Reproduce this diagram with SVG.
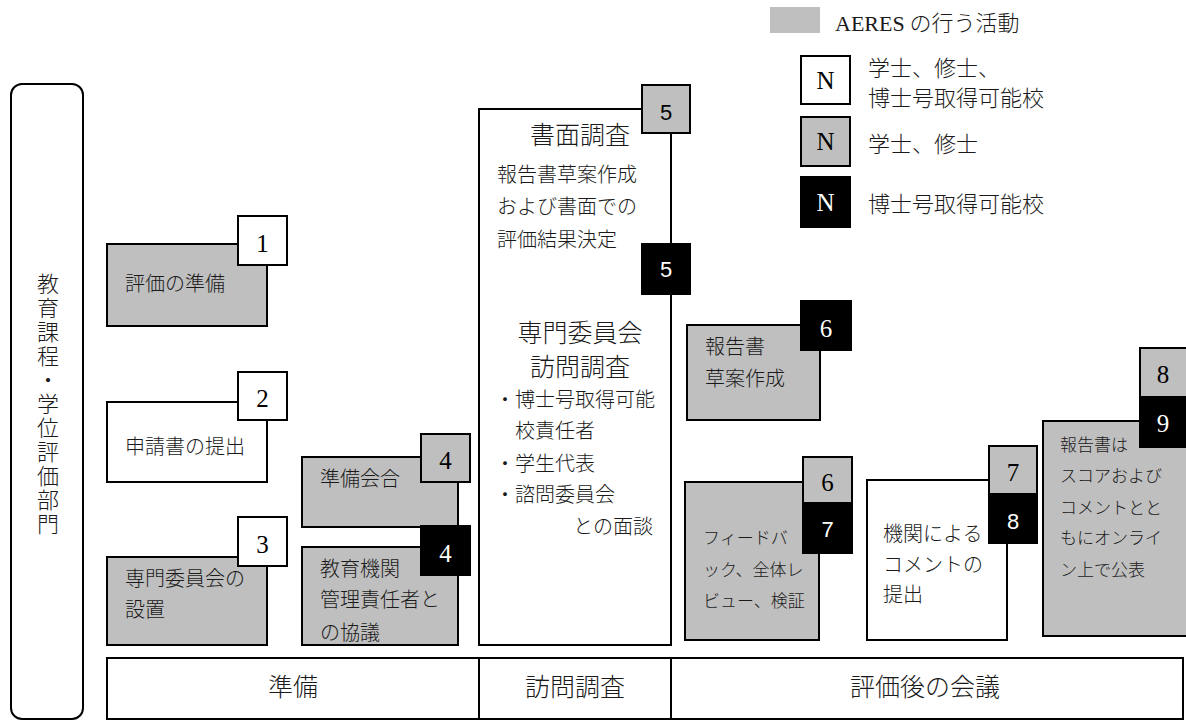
<svg xmlns="http://www.w3.org/2000/svg" width="1186" height="722" viewBox="0 0 1186 722">
<style>
.w{fill:#ffffff;stroke:#000;stroke-width:2}
.g{fill:#bfbfbf;stroke:#000;stroke-width:2}
.b{fill:#000;stroke:#000;stroke-width:2}
.t{font-family:"Noto Sans CJK JP","Noto Sans",sans-serif;font-size:20px;font-weight:300;fill:#1a1a1a}
.ts{font-family:"Noto Sans CJK JP","Noto Sans",sans-serif;font-size:17px;font-weight:300;fill:#1a1a1a}
.th{font-family:"Noto Sans CJK JP","Noto Sans",sans-serif;font-size:25px;font-weight:300;fill:#1a1a1a;text-anchor:middle}
.tl{font-family:"Noto Sans CJK JP","Noto Sans",sans-serif;font-size:22px;font-weight:300;fill:#1a1a1a}
.n{font-family:"Liberation Serif","Times New Roman",serif;font-size:25px;text-anchor:middle;fill:#000}
.ns{font-family:"Liberation Sans",Arial,sans-serif;font-size:22px;text-anchor:middle;fill:#000}
.nw{fill:#fff}
</style>
<rect width="1186" height="722" fill="#fff"/>

<g id="legend">
  <rect x="770" y="7" width="50" height="26" fill="#bfbfbf"/>
  <text x="835" y="31" class="tl"><tspan font-family="Liberation Serif, serif" font-weight="400">AERES</tspan> の行う活動</text>
  <rect x="801" y="56" width="49" height="48" class="w"/>
  <text x="825.5" y="89" class="n" font-size="22">N</text>
  <text x="868" y="76" class="tl">学士、修士、</text>
  <text x="868" y="106" class="tl">博士号取得可能校</text>
  <rect x="801" y="117" width="49" height="49" class="g"/>
  <text x="825.5" y="150" class="n" font-size="22">N</text>
  <text x="868" y="152" class="tl">学士、修士</text>
  <rect x="801" y="177" width="49" height="50" class="b"/>
  <text x="825.5" y="211" class="n nw" font-size="22">N</text>
  <text x="868" y="212" class="tl">博士号取得可能校</text>
</g>

<g id="dept">
  <rect x="11" y="84" width="72" height="635" rx="11" ry="11" fill="#fff" stroke="#000" stroke-width="2"/>
  <text x="48" y="273" class="tl" font-size="24" style="writing-mode:vertical-rl;letter-spacing:2px">教育課程・学位評価部門</text>
</g>

<g id="phases">
  <rect x="107" y="658" width="1076" height="61" fill="#fff" stroke="#000" stroke-width="2"/>
  <line x1="479" y1="658" x2="479" y2="719" stroke="#000" stroke-width="2"/>
  <line x1="671" y1="658" x2="671" y2="719" stroke="#000" stroke-width="2"/>
  <text x="293" y="696" class="th" font-size="24">準備</text>
  <text x="575" y="696" class="th" font-size="24">訪問調査</text>
  <text x="925" y="696" class="th" font-size="24">評価後の会議</text>
</g>

<g id="step1">
  <rect x="107" y="244" width="160" height="82" class="g"/>
  <text x="125" y="291" class="t">評価の準備</text>
  <rect x="238" y="216" width="49" height="49" class="w"/>
  <text x="262.5" y="252" class="n">1</text>
</g>

<g id="step2">
  <rect x="107" y="402" width="160" height="80" class="w"/>
  <text x="125" y="454" class="t">申請書の提出</text>
  <rect x="238" y="372" width="49" height="48" class="w"/>
  <text x="262.5" y="407" class="n">2</text>
</g>

<g id="step3">
  <rect x="107" y="557" width="160" height="88" class="g"/>
  <text x="125" y="586" class="t">専門委員会の</text>
  <text x="125" y="617" class="t">設置</text>
  <rect x="238" y="517" width="49" height="49" class="w"/>
  <text x="262.5" y="553" class="n">3</text>
</g>

<g id="step4a">
  <rect x="302" y="457" width="156" height="70" class="g"/>
  <text x="320" y="486" class="t">準備会合</text>
  <rect x="421" y="434" width="49" height="48" class="g"/>
  <text x="445.5" y="469" class="n">4</text>
</g>

<g id="step4b">
  <rect x="302" y="547" width="156" height="98" class="g"/>
  <text x="320" y="576" class="t">教育機関</text>
  <text x="320" y="607" class="t">管理責任者と</text>
  <text x="320" y="640" class="t">の協議</text>
  <rect x="421" y="526" width="49" height="49" class="b"/>
  <text x="445.5" y="562" class="n nw">4</text>
</g>

<g id="step5">
  <rect x="479" y="109" width="192" height="536" class="w"/>
  <text x="580" y="144" class="th">書面調査</text>
  <text x="497" y="182" class="t">報告書草案作成</text>
  <text x="497" y="214" class="t">および書面での</text>
  <text x="497" y="247" class="t">評価結果決定</text>
  <text x="580" y="342" class="th" font-size="23">専門委員会</text>
  <text x="580" y="376" class="th" font-size="23">訪問調査</text>
  <text x="495" y="407" class="t">・博士号取得可能</text>
  <text x="515" y="438" class="t">校責任者</text>
  <text x="495" y="471" class="t">・学生代表</text>
  <text x="495" y="502" class="t">・諮問委員会</text>
  <text x="653" y="534" class="t" text-anchor="end">との面談</text>
  <rect x="642" y="85" width="48" height="48" class="g"/>
  <text x="666" y="120" class="ns">5</text>
  <rect x="642" y="244" width="48" height="50" class="b"/>
  <text x="666" y="277" class="ns nw">5</text>
</g>

<g id="step6a">
  <rect x="687" y="325" width="133" height="95" class="g"/>
  <text x="705" y="354" class="t">報告書</text>
  <text x="705" y="386" class="t">草案作成</text>
  <rect x="801" y="301" width="50" height="49" class="b"/>
  <text x="826" y="337" class="n nw">6</text>
</g>

<g id="step6b7">
  <rect x="685" y="482" width="134" height="158" class="g"/>
  <text x="703" y="544" class="ts">フィードバ</text>
  <text x="703" y="576" class="ts">ック、全体レ</text>
  <text x="703" y="607" class="ts">ビュー、検証</text>
  <rect x="803" y="457" width="49" height="46" class="g"/>
  <text x="827.5" y="491" class="n">6</text>
  <rect x="803" y="503" width="49" height="50" class="b"/>
  <text x="827.5" y="537" class="ns nw" font-size="23">7</text>
</g>

<g id="step7b8">
  <rect x="867" y="480" width="140" height="160" class="w"/>
  <text x="883" y="541" class="t">機関による</text>
  <text x="883" y="572" class="t">コメントの</text>
  <text x="883" y="602" class="t">提出</text>
  <rect x="989" y="446" width="48" height="48" class="g"/>
  <text x="1013" y="481" class="n">7</text>
  <rect x="989" y="494" width="48" height="49" class="b"/>
  <text x="1013" y="529" class="ns nw" font-size="23">8</text>
</g>

<g id="step8b9">
  <rect x="1043" y="421" width="150" height="215" class="g"/>
  <text x="1060" y="451" class="ts">報告書は</text>
  <text x="1060" y="482" class="ts">スコアおよび</text>
  <text x="1060" y="514" class="ts">コメントとと</text>
  <text x="1060" y="544" class="ts">もにオンライ</text>
  <text x="1060" y="576" class="ts">ン上で公表</text>
  <rect x="1140" y="348" width="50" height="49" class="g"/>
  <text x="1163" y="383" class="n">8</text>
  <rect x="1140" y="397" width="50" height="50" class="b"/>
  <text x="1163" y="432" class="n nw">9</text>
</g>

<g id="connectors"></g>
</svg>
